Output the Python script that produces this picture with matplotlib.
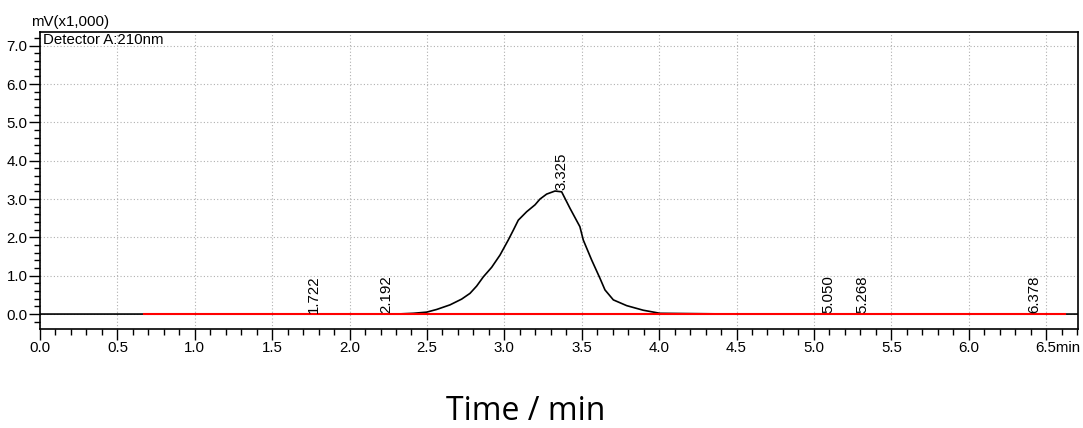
import matplotlib
matplotlib.use("Agg")
import matplotlib.pyplot as plt
from matplotlib.ticker import MultipleLocator, FixedLocator

plt.rcParams['font.family'] = ['Liberation Sans', 'DejaVu Sans']

# chromatogram trace (min, mV x1000)
time = [0.0, 0.5, 1.0, 1.5, 2.0, 2.3, 2.412, 2.498, 2.563, 2.649, 2.724, 2.778, 2.821,
        2.864, 2.918, 2.972, 3.025, 3.058, 3.09, 3.144, 3.198, 3.23, 3.273, 3.327,
        3.37, 3.424, 3.488, 3.51, 3.564, 3.618, 3.65, 3.704, 3.79, 3.897, 4.005,
        4.5, 5.0, 5.5, 6.0, 6.5, 6.706]
signal = [0.0, 0.0, 0.0, 0.0, 0.0, 0.0, 0.02, 0.05, 0.12, 0.24, 0.39, 0.54, 0.73,
          0.97, 1.22, 1.54, 1.93, 2.19, 2.45, 2.67, 2.85, 3.0, 3.13, 3.21,
          3.19, 2.76, 2.28, 1.93, 1.41, 0.93, 0.63, 0.37, 0.22, 0.10, 0.02,
          0.0, 0.0, 0.0, 0.0, 0.0, 0.0]

# peak retention times and label heights
peak_times = [1.722, 2.192, 3.325, 5.050, 5.268, 6.378]
peak_heights = [0.0, 0.0, 3.21, 0.0, 0.0, 0.0]
peak_labels = ["1.722", "2.192", "3.325", "5.050", "5.268", "6.378"]

# baseline
base_t = [0.672, 6.62]
base_v = [0.0, 0.0]

x_ticks = [0.0, 0.5, 1.0, 1.5, 2.0, 2.5, 3.0, 3.5, 4.0, 4.5, 5.0, 5.5, 6.0, 6.5]
x_ticklabels = ["0.0", "0.5", "1.0", "1.5", "2.0", "2.5", "3.0", "3.5", "4.0", "4.5",
                "5.0", "5.5", "6.0", ""]
last_tick_label = "6.5min"
y_ticks = [0.0, 1.0, 2.0, 3.0, 4.0, 5.0, 6.0, 7.0]
y_ticklabels = ["0.0", "1.0", "2.0", "3.0", "4.0", "5.0", "6.0", "7.0"]

FS = 10.8

fig = plt.figure(figsize=(10.83, 4.28), dpi=100)
ax = fig.add_axes([40/1083, 99/428, 1038/1083, 297/428])

ax.plot(time, signal, color='black', lw=1.2, zorder=3)
ax.plot(base_t, base_v, color='#ff0000', lw=1.5, zorder=4)

for t, h, lab in zip(peak_times, peak_heights, peak_labels):
    ax.text(t, h + 0.02, lab, rotation=90, ha='left', va='bottom', fontsize=FS,
            zorder=5)

ax.set_xlim(0, 6.706)
ax.set_ylim(-0.39, 7.36)
ax.xaxis.set_major_locator(FixedLocator(x_ticks))
ax.set_xticklabels(x_ticklabels)
ax.xaxis.set_minor_locator(MultipleLocator(0.1))
ax.yaxis.set_major_locator(FixedLocator(y_ticks))
ax.set_yticklabels(y_ticklabels)
ax.yaxis.set_minor_locator(MultipleLocator(0.2))

ax.tick_params(which='major', direction='out', length=8, width=1, labelsize=FS, pad=1)
ax.tick_params(which='minor', direction='out', length=4, width=1)
ax.grid(True, which='major', linestyle=(0, (1, 2)), color='#b0b0b0', lw=0.8)
for s in ax.spines.values():
    s.set_linewidth(1.2)

ax.annotate(last_tick_label, xy=(x_ticks[-1], 0), xycoords=('data', 'axes fraction'),
            xytext=(-7.7, -9), textcoords='offset points', ha='left', va='top',
            fontsize=FS)

fig.text(31/1083, 1 - 22/428, "mV(x1,000)", fontsize=FS, va='center', ha='left')
ax.text(0.003, 0.995, "Detector A:210nm", transform=ax.transAxes, fontsize=FS,
        va='top', ha='left')

fig.text(526/1083, 1 - 420/428, "Time / min", fontsize=23, ha='center', va='baseline',
         family=['Open Sans', 'DejaVu Sans'])

fig.savefig("out.png", dpi=100)
